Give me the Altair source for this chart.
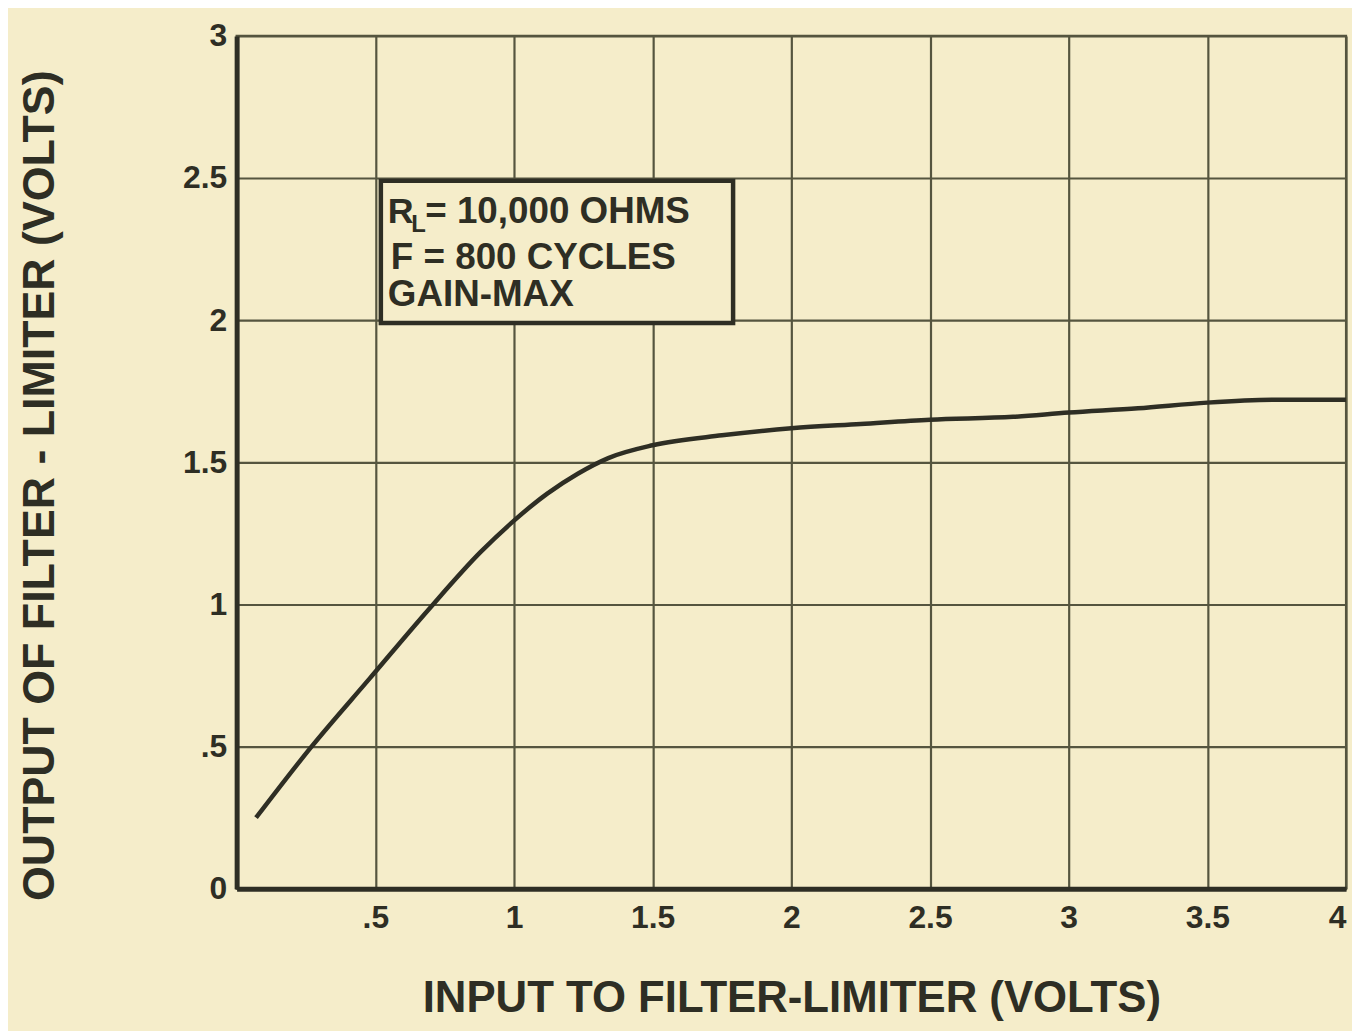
import altair as alt
import pandas as pd

# Curve
x_in = [0.07, 0.27, 0.48, 0.69, 0.88, 1.0, 1.12, 1.23, 1.34, 1.5, 1.75, 2.0, 2.25, 2.5, 2.8, 3.0, 3.25, 3.5, 3.75, 4.0]
y_out = [0.25, 0.50, 0.74, 0.98, 1.185, 1.295, 1.39, 1.46, 1.515, 1.56, 1.595, 1.62, 1.635, 1.65, 1.66, 1.675, 1.69, 1.71, 1.72, 1.72]

x_ticks = [0.5, 1, 1.5, 2, 2.5, 3, 3.5, 4]
y_ticks = [0, 0.5, 1, 1.5, 2, 2.5, 3]

# Annotation box
box_x = [0.52]
box_x2 = [1.79]
box_y = [1.99]
box_y2 = [2.49]

note_text = ["R", "L", "= 10,000 OHMS", "F = 800 CYCLES", "GAIN-MAX"]
note_x = [0.545, 0.63, 0.68, 0.556, 0.545]
note_y = [2.38, 2.335, 2.38, 2.22, 2.09]
note_size = [36, 24, 37, 37, 37]

INK = "#2e2e24"
GRID = "#55553f"
BG = "#f5edca"
FONT = "Liberation Sans"

curve = pd.DataFrame({"x": x_in, "y": y_out})
box = pd.DataFrame({"x": box_x, "x2": box_x2, "y": box_y, "y2": box_y2})
notes = pd.DataFrame({"t": note_text, "x": note_x, "y": note_y, "s": note_size})

xscale = alt.Scale(domain=[0, 4], nice=False, zero=False)
yscale = alt.Scale(domain=[0, 3], nice=False, zero=False)

LBL = "replace(format(datum.value, '~g'), '0.', '.')"

xaxis = alt.Axis(
    values=x_ticks, labelExpr=LBL,
    title="INPUT  TO FILTER-LIMITER (VOLTS)", grid=True, gridColor=GRID, gridWidth=2.2, gridOpacity=1,
    ticks=False, domainColor=INK, domainWidth=5, labelFont=FONT, labelFontSize=32, labelFontWeight="bold",
    labelColor=INK, labelPadding=14, titleFont=FONT, titleFontSize=44, titleFontWeight="bold",
    titleColor=INK, titleBaseline="middle", titleY=110, labelFlush=True,
)
yaxis = alt.Axis(
    values=y_ticks, labelExpr=LBL,
    title="OUTPUT OF FILTER - LIMITER (VOLTS)", grid=True, gridColor=GRID, gridWidth=2.2, gridOpacity=1,
    ticks=False, domainColor=INK, domainWidth=5, labelFont=FONT, labelFontSize=32, labelFontWeight="bold",
    labelColor=INK, labelPadding=10, titleFont=FONT, titleFontSize=45, titleFontWeight="bold",
    titleColor=INK, titleAngle=270, titleBaseline="middle", titleAlign="center", titleX=-198, titleY=452,
    labelFlush=False,
)

line = alt.Chart(curve).mark_line(color=INK, strokeWidth=4.5, interpolate="monotone").encode(
    x=alt.X("x:Q", scale=xscale, axis=xaxis),
    y=alt.Y("y:Q", scale=yscale, axis=yaxis),
)

rect = alt.Chart(box).mark_rect(fill=BG, stroke=INK, strokeWidth=4.5).encode(
    x=alt.X("x:Q", scale=xscale), x2="x2:Q",
    y=alt.Y("y:Q", scale=yscale), y2="y2:Q",
)

text = alt.Chart(notes).mark_text(align="left", baseline="middle", font=FONT, fontWeight="bold", color=INK).encode(
    x=alt.X("x:Q", scale=xscale), y=alt.Y("y:Q", scale=yscale), text="t:N",
    size=alt.Size("s:Q", scale=None, legend=None),
)

chart = alt.layer(line, rect, text).properties(
    width=1116, height=858,
    autosize=alt.AutoSizeParams(type="none"),
    padding={"left": 230, "top": 25, "right": 6, "bottom": 140},
    background=BG,
).configure_view(stroke=GRID, strokeWidth=2.2, fill=BG)

chart.save("out.html", embed_options={"renderer": "svg", "actions": False})
